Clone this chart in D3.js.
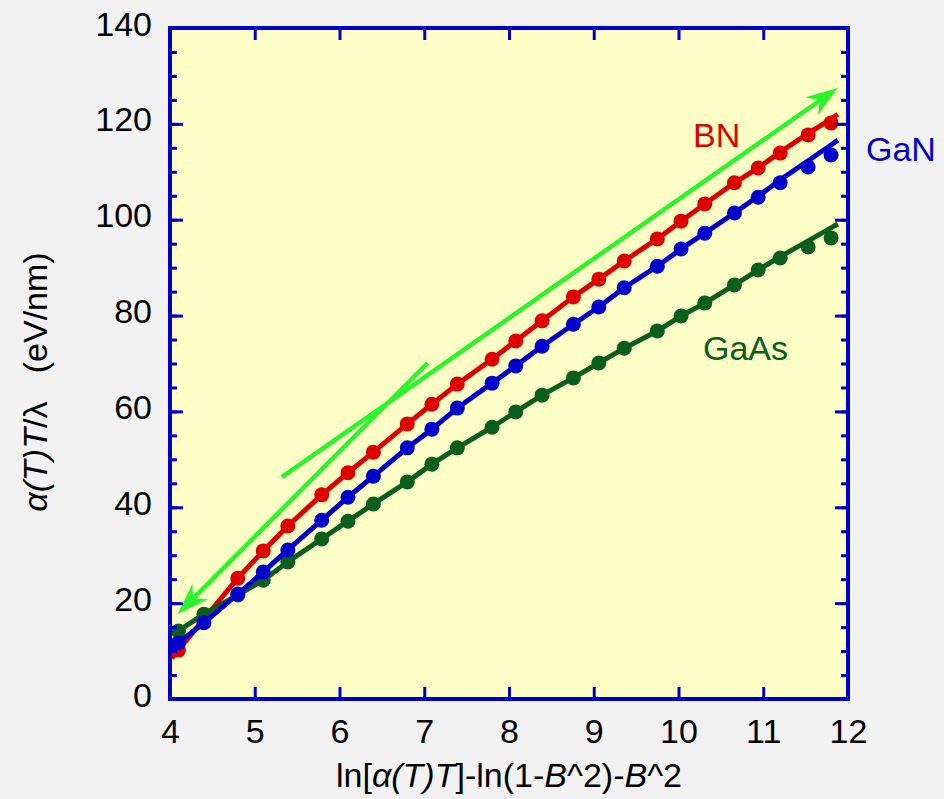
<!DOCTYPE html>
<html>
<head>
<meta charset="utf-8">
<script src="https://cdn.jsdelivr.net/npm/d3@7"></script>
<style>
  body { margin: 0; background: #f2f2f2; }
  text { font-family: "Liberation Sans", Arial, Helvetica, sans-serif; }
</style>
</head>
<body>
<div id="chart"></div>
<script>
var svgWidth = 944;
var svgHeight = 799;

var margin = { top: 28, right: 96, bottom: 100, left: 170 };
var width = 848 - margin.left;
var height = 699 - margin.top;

// data
var xVals = [4.1, 4.4, 4.8, 5.1, 5.39, 5.79, 6.1, 6.4, 6.8, 7.09, 7.39, 7.8, 8.08,
  8.39, 8.76, 9.06, 9.36, 9.75, 10.03, 10.31, 10.66, 10.94, 11.2, 11.53, 11.8];
var bnVals = [10.2, null, 25.2, 30.9, 36.1, 42.6, 47.2, 51.5, 57.4, 61.5, 65.7, 70.9, 74.7,
  78.9, 83.9, 87.6, 91.4, 96.0, 99.7, 103.3, 107.7, 110.8, 113.9, 117.7, 120.2];
var ganVals = [11.7, 15.9, 21.9, 26.5, 31.1, 37.3, 42.1, 46.5, 52.4, 56.3, 60.7, 65.9, 69.5,
  73.6, 78.2, 81.8, 85.8, 90.3, 93.9, 97.2, 101.4, 104.7, 107.7, 111.0, 113.5];
var gaasVals = [14.2, 17.7, 21.7, 24.8, 28.6, 33.4, 37.1, 40.7, 45.3, 49.0, 52.4, 56.7, 59.9,
  63.4, 67.0, 70.1, 73.2, 76.8, 79.9, 82.6, 86.4, 89.5, 92.0, 94.3, 96.2];

// fitted curves (same x as points, plus both ends)
var fitX = [4.02].concat(xVals, [11.88]);
var bnFit = [8.5, 10.2, 16.7, 25.2, 30.9, 36.1, 42.6, 47.2, 51.5, 57.4, 61.5, 65.7, 70.9, 74.7,
  78.9, 83.9, 87.6, 91.4, 96.0, 99.7, 103.3, 107.7, 110.8, 114.1, 118.0, 121.0, 122.0];
var ganFit = [10.6, 11.7, 15.9, 21.9, 26.5, 31.1, 37.3, 42.1, 46.5, 52.4, 56.3, 60.7, 65.9, 69.5,
  73.6, 78.2, 81.8, 85.8, 90.3, 93.9, 97.2, 101.4, 104.9, 108.3, 112.3, 115.6, 116.6];
var gaasFit = [13.6, 14.2, 17.7, 21.7, 24.8, 28.6, 33.4, 37.1, 40.7, 45.3, 49.0, 52.4, 56.7, 59.9,
  63.4, 67.0, 70.1, 73.2, 76.8, 79.9, 82.6, 86.4, 89.5, 92.3, 95.6, 98.3, 99.1];

// guide arrows: [x0, y0, x1, y1], head at the second point
var arrowUp = [5.32, 46.3, 11.88, 127.5];
var arrowDown = [7.04, 70.1, 4.09, 17.7];

var xTicks = [4, 5, 6, 7, 8, 9, 10, 11, 12];
var yTicks = [0, 20, 40, 60, 80, 100, 120, 140];
var yMinorTicks = d3.range(0, 141, 5);

var series = [
  { name: "BN", vals: bnVals, fit: bnFit, color: "#dd0000" },
  { name: "GaAs", vals: gaasVals, fit: gaasFit, color: "#0b5e1c" },
  { name: "GaN", vals: ganVals, fit: ganFit, color: "#0000cc" }
];

var svg = d3.select("#chart")
  .append("svg")
  .attr("width", svgWidth)
  .attr("height", svgHeight);

var chartGroup = svg.append("g")
  .attr("transform", `translate(${margin.left}, ${margin.top})`);

var xScale = d3.scaleLinear().domain([4, 12]).range([0, width]);
var yScale = d3.scaleLinear().domain([0, 140]).range([height, 0]);

// plot background
chartGroup.append("rect")
  .attr("width", width)
  .attr("height", height)
  .attr("fill", "#fdfdc6");

// fitted lines and dots
var line = d3.line()
  .defined(d => d[1] != null)
  .x(d => xScale(d[0]))
  .y(d => yScale(d[1]));

series.forEach(function(s) {
  chartGroup.append("path")
    .datum(fitX.map((x, i) => [x, s.fit[i]]))
    .attr("d", line)
    .attr("fill", "none")
    .attr("stroke", s.color)
    .attr("stroke-width", 5)
    .attr("stroke-linejoin", "round");

  chartGroup.append("g")
    .selectAll("circle")
    .data(xVals.map((x, i) => [x, s.vals[i]]).filter(d => d[1] != null))
    .enter()
    .append("circle")
    .attr("cx", d => xScale(d[0]))
    .attr("cy", d => yScale(d[1]))
    .attr("r", 7.5)
    .attr("fill", s.color);
});

// green arrows
function drawArrow(a) {
  var x0 = xScale(a[0]), y0 = yScale(a[1]);
  var x1 = xScale(a[2]), y1 = yScale(a[3]);
  var ang = Math.atan2(y1 - y0, x1 - x0) * 180 / Math.PI;
  var len = Math.hypot(x1 - x0, y1 - y0);
  var g = chartGroup.append("g")
    .attr("transform", `translate(${x0},${y0}) rotate(${ang})`);
  g.append("line")
    .attr("x1", 0).attr("y1", 0)
    .attr("x2", len - 18).attr("y2", 0)
    .attr("stroke", "#2af52a")
    .attr("stroke-width", 4.5);
  g.append("path")
    .attr("d", `M${len},0 L${len - 32},-11 L${len - 22},0 L${len - 32},11 Z`)
    .attr("fill", "#2af52a");
}
drawArrow(arrowUp);
drawArrow(arrowDown);

// axes, ticks pointing inward on all four sides
var axisColor = "#0000cc";
function styleAxis(g) {
  g.select(".domain").remove();
  g.selectAll(".tick line").attr("stroke", axisColor).attr("stroke-width", 3);
  g.selectAll("text")
    .attr("fill", "#000")
    .attr("font-size", 34)
    .attr("font-family", "'Liberation Sans', Arial, Helvetica, sans-serif");
}

chartGroup.append("g")
  .attr("transform", `translate(0, ${height})`)
  .call(d3.axisBottom(xScale).tickValues(xTicks).tickFormat(d3.format("d"))
    .tickSize(-12).tickSizeOuter(0).tickPadding(20))
  .call(styleAxis);

chartGroup.append("g")
  .call(d3.axisTop(xScale).tickValues(xTicks).tickFormat("")
    .tickSize(-12).tickSizeOuter(0))
  .call(styleAxis);

chartGroup.append("g")
  .call(d3.axisLeft(yScale).tickValues(yMinorTicks).tickFormat("")
    .tickSize(-7).tickSizeOuter(0))
  .call(styleAxis);

chartGroup.append("g")
  .attr("transform", `translate(${width}, 0)`)
  .call(d3.axisRight(yScale).tickValues(yMinorTicks).tickFormat("")
    .tickSize(-7).tickSizeOuter(0))
  .call(styleAxis);

var yAxis = chartGroup.append("g")
  .call(d3.axisLeft(yScale).tickValues(yTicks).tickFormat(d3.format("d"))
    .tickSize(-13).tickSizeOuter(0).tickPadding(18))
  .call(styleAxis);
yAxis.selectAll("text").attr("dy", "0.21em");

chartGroup.append("g")
  .attr("transform", `translate(${width}, 0)`)
  .call(d3.axisRight(yScale).tickValues(yTicks).tickFormat("")
    .tickSize(-13).tickSizeOuter(0))
  .call(styleAxis);

// frame
chartGroup.append("rect")
  .attr("width", width)
  .attr("height", height)
  .attr("fill", "none")
  .attr("stroke", axisColor)
  .attr("stroke-width", 4);

// series labels
var labels = [
  { text: "BN", x: 693, y: 147, color: "#dd0000" },
  { text: "GaN", x: 866, y: 161, color: "#0000cc" },
  { text: "GaAs", x: 703, y: 360, color: "#0b5e1c" }
];
svg.selectAll(".series-label")
  .data(labels)
  .enter()
  .append("text")
  .attr("class", "series-label")
  .attr("x", d => d.x)
  .attr("y", d => d.y)
  .attr("fill", d => d.color)
  .attr("font-size", 34)
  .text(d => d.text);

// x axis title
var xTitle = svg.append("text")
  .attr("x", 509)
  .attr("y", 787)
  .attr("text-anchor", "middle")
  .attr("font-size", 34);
xTitle.append("tspan").text("ln[");
xTitle.append("tspan").attr("font-style", "italic").text("α(T)T");
xTitle.append("tspan").text("]-ln(1-");
xTitle.append("tspan").attr("font-style", "italic").text("B");
xTitle.append("tspan").text("^2)-");
xTitle.append("tspan").attr("font-style", "italic").text("B");
xTitle.append("tspan").text("^2");

// y axis title
var yTitle = svg.append("text")
  .attr("transform", "translate(47, 382) rotate(-90)")
  .attr("text-anchor", "middle")
  .attr("font-size", 34)
  .attr("xml:space", "preserve");
yTitle.append("tspan").attr("font-style", "italic").text("α(T)T");
yTitle.append("tspan").text("/λ   (eV/nm)");
</script>
</body>
</html>
